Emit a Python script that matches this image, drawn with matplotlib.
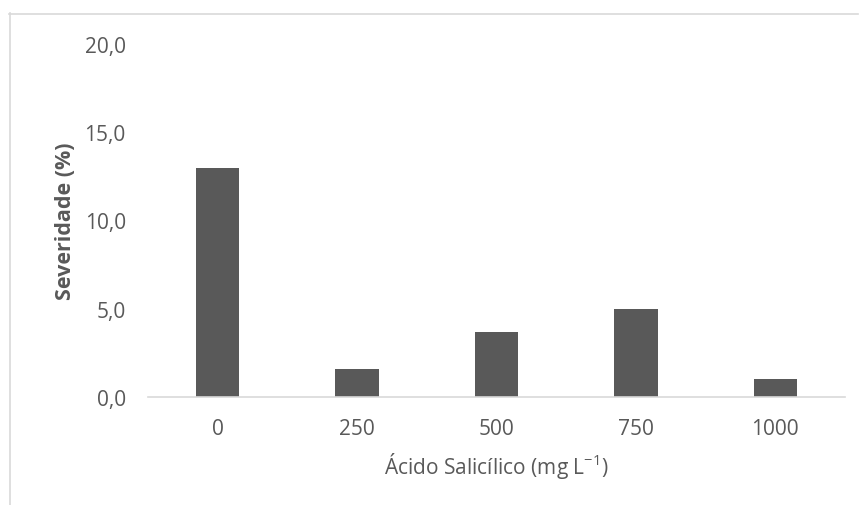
import matplotlib
matplotlib.use("Agg")
import matplotlib.pyplot as plt
from matplotlib.lines import Line2D

# data
doses = ["0", "250", "500", "750", "1000"]
severidade = [13.0, 1.6, 3.7, 5.0, 1.0]
yticks = [0, 5, 10, 15, 20]

plt.rcParams["font.family"] = "Open Sans"
plt.rcParams["mathtext.fontset"] = "custom"
plt.rcParams["mathtext.rm"] = "Open Sans"
plt.rcParams["mathtext.it"] = "Open Sans"

txt = "#595959"
W, H = 859, 506
fig = plt.figure(figsize=(W / 100, H / 100), dpi=100)
ax = fig.add_axes([148 / W, 108 / H, 697 / W, 353 / H])

x = range(len(doses))
ax.bar(x, severidade, width=0.31, color="#595959")
ax.set_xlim(-0.5, len(doses) - 0.5)
ax.set_ylim(0, 20)
ax.set_xticks(list(x))
ax.set_xticklabels(doses)
ax.set_yticks(yticks)
ax.set_yticklabels([f"{v:.1f}".replace(".", ",") for v in yticks])
ax.tick_params(length=0, labelsize=15, colors=txt)
ax.tick_params(axis="y", pad=16)
ax.tick_params(axis="x", pad=15)

for s in ["top", "right", "left"]:
    ax.spines[s].set_visible(False)
ax.spines["bottom"].set_color("#d9d9d9")
ax.spines["bottom"].set_linewidth(1.2)

ax.set_ylabel("Severidade (%)", fontsize=15.5, fontweight="bold", color=txt, labelpad=6)
ax.set_xlabel(r"Ácido Salicílico (mg L$\mathregular{^{-1}}$)", fontsize=15, color=txt, labelpad=8)

# outer chart frame (top and left edges visible)
fig.add_artist(Line2D([9 / W, 858 / W], [1 - 14.5 / H, 1 - 14.5 / H], transform=fig.transFigure,
                      color="#d9d9d9", lw=1.2))
fig.add_artist(Line2D([9.5 / W, 9.5 / W], [1 - 14 / H, 0], transform=fig.transFigure,
                      color="#d9d9d9", lw=1.2))

fig.savefig("out.png", dpi=100, facecolor="white")
